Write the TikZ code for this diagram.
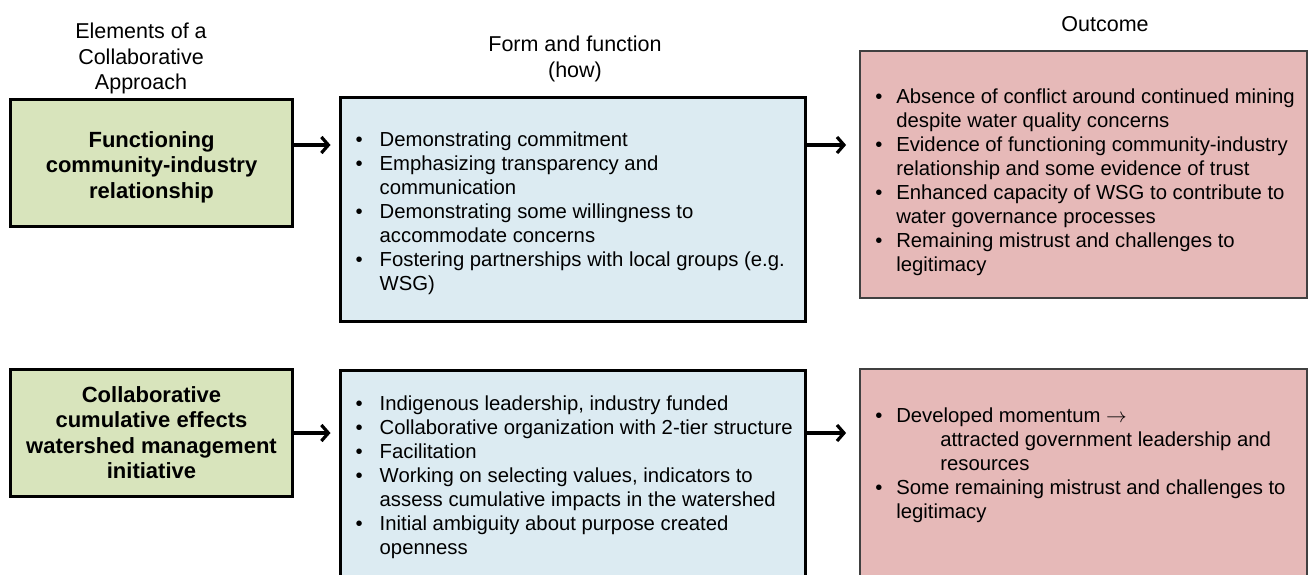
\documentclass[tikz,border=0pt]{standalone}
\usepackage{fontspec}
\setmainfont{Liberation Sans}
\usetikzlibrary{arrows.meta, positioning, shadows}

\definecolor{elemgreen}{HTML}{D8E4BC}
\definecolor{formblue}{HTML}{DCEBF2}
\definecolor{outpink}{HTML}{E6B9B8}

% bullet with fixed indent, and the matching indent for wrapped lines
\newlength{\bulwd}
\newcommand{\bul}{\makebox[\bulwd][l]{\textbullet}}
\newcommand{\wrapind}{\hspace*{\bulwd}}

\begin{document}
\begin{tikzpicture}[x=1bp, y=-1bp,
  head/.style={align=center, inner sep=0pt, font=\fontsize{21.5bp}{25.5bp}\selectfont},
  elem/.style={rectangle, draw=black, line width=3bp, fill=elemgreen,
               minimum width=281bp, align=center,
               font=\bfseries\fontsize{22bp}{25.5bp}\selectfont,
               drop shadow={opacity=0.25, shadow xshift=1.5bp, shadow yshift=-1.5bp}},
  form/.style={rectangle, draw=black, line width=3bp, fill=formblue,
               minimum width=465bp,
               drop shadow={opacity=0.25, shadow xshift=1.5bp, shadow yshift=-1.5bp}},
  outc/.style={rectangle, draw=black!75, line width=1.8bp, fill=outpink,
               minimum width=447bp},
  list/.style={align=left, inner sep=0pt, anchor=north west,
               font=\fontsize{20.3bp}{24bp}\selectfont,
               execute at begin node={\setlength{\bulwd}{#1}}},
  list/.default=24bp,
  arr/.style={-{Straight Barb[length=7bp, width=16bp]}, line width=3.2bp}
]
  \useasboundingbox (0,0) rectangle (1308,575);
  \clip (0,0) rectangle (1308,575);

  % column heads
  \node[head, anchor=north] (h1) at (141,23) {Elements of a\\Collaborative\\Approach};
  \node[head, anchor=north] (h2) at (575,36) {Form and function\\(how)};
  \node[head, anchor=north] (h3) at (1105,16) {Outcome};

  % first row
  \node[elem, minimum height=126bp] (g1) at (151.5,163) {\rule{0pt}{24bp}Functioning\\community-industry\\relationship};
  \node[form, minimum height=223bp] (f1) at (572.5,209.5) {};
  \node[outc, minimum height=247bp] (o1) at (1083.5,174.5) {};

  \node[list] (f1t) at ([xshift=17bp, yshift=-35bp]f1.north west)
    {\bul Demonstrating commitment\\
     \bul Emphasizing transparency and\\
     \wrapind communication\\
     \bul Demonstrating some willingness to\\
     \wrapind accommodate concerns\\
     \bul Fostering partnerships with local groups (e.g.\\
     \wrapind WSG)};
  \node[list=21bp] (o1t) at ([xshift=16bp, yshift=-38bp]o1.north west)
    {\bul Absence of conflict around continued mining\\
     \wrapind despite water quality concerns\\
     \bul Evidence of functioning community-industry\\
     \wrapind relationship and some evidence of trust\\
     \bul Enhanced capacity of WSG to contribute to\\
     \wrapind water governance processes\\
     \bul Remaining mistrust and challenges to\\
     \wrapind legitimacy};

  % second row
  \node[elem, minimum height=127bp] (g2) at (151.5,432.5) {Collaborative\\cumulative effects\\watershed management\\initiative};
  \node[form, minimum height=220bp] (f2) at (572.5,480) {};
  \node[outc, minimum height=230bp] (o2) at (1083.5,484) {};

  \node[list] (f2t) at ([xshift=17bp, yshift=-27.5bp]f2.north west)
    {\bul Indigenous leadership, industry funded\\
     \bul Collaborative organization with 2-tier structure\\
     \bul Facilitation\\
     \bul Working on selecting values, indicators to\\
     \wrapind assess cumulative impacts in the watershed\\
     \bul Initial ambiguity about purpose created\\
     \wrapind openness};
  \node[list=21bp] (o2t) at ([xshift=16bp, yshift=-39.5bp]o2.north west)
    {\bul Developed momentum $\rightarrow$\\
     \hspace*{65bp}attracted government leadership and\\
     \hspace*{65bp}resources\\
     \bul Some remaining mistrust and challenges to\\
     \wrapind legitimacy};

  % connectors
  \coordinate (r1) at (0,145);
  \coordinate (r2) at (0,433);
  \draw[arr, shorten >=8bp] (g1.east |- r1) -- (f1.west |- r1);
  \draw[arr, shorten >=13bp] (f1.east |- r1) -- (o1.west |- r1);
  \draw[arr, shorten >=8bp] (g2.east |- r2) -- (f2.west |- r2);
  \draw[arr, shorten >=13bp] (f2.east |- r2) -- (o2.west |- r2);
\end{tikzpicture}
\end{document}
